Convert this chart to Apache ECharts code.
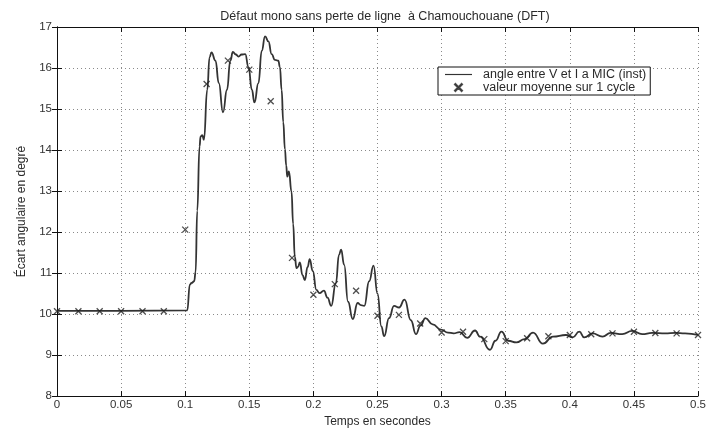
<!DOCTYPE html>
<html>
<head>
<meta charset="utf-8">
<script src="https://cdn.jsdelivr.net/npm/echarts@6/dist/echarts.min.js"></script>
<style>
  html, body { margin: 0; padding: 0; background: #fff; }
  #chart { width: 709px; height: 433px; }
</style>
</head>
<body>
<div id="chart"></div>
<script>
// Instantaneous angle between V and I at MIC (time in s, angle in degrees)
const timeSec = [
  0, 0.05, 0.1016, 0.1036, 0.1050, 0.1070, 0.1081, 0.1094, 0.1112, 0.1120,
  0.1133, 0.1146, 0.1172, 0.1190, 0.1205, 0.1236, 0.1262, 0.1295, 0.1326, 0.1352,
  0.1372, 0.1395, 0.1416, 0.1440, 0.1468, 0.1494, 0.1520, 0.1540, 0.1571, 0.1597,
  0.1623, 0.1649, 0.1674, 0.1700, 0.1726, 0.1739, 0.1752, 0.1765, 0.1778, 0.1788,
  0.1796, 0.1809, 0.1829, 0.1842, 0.1855, 0.1868, 0.1880, 0.1894, 0.1915, 0.1933,
  0.1955, 0.1971, 0.1995, 0.2023, 0.2048, 0.2082, 0.2110, 0.2139, 0.2175, 0.2200,
  0.2216, 0.2240, 0.2270, 0.2307, 0.2345, 0.2370, 0.2397, 0.2435, 0.2469, 0.2500,
  0.2530, 0.2552, 0.2590, 0.2629, 0.2668, 0.2711, 0.2760, 0.2800, 0.2835, 0.2874,
  0.2930, 0.2995, 0.3050, 0.3094, 0.3140, 0.3200, 0.3261, 0.3300, 0.3377, 0.3420,
  0.3467, 0.3519, 0.3584, 0.3648, 0.3713, 0.3790, 0.3868, 0.3970, 0.4022, 0.4074,
  0.4113, 0.4177, 0.4255, 0.4319, 0.4409, 0.4487, 0.4564, 0.4642, 0.4745, 0.4822,
  0.4899, 0.5
];
const angleDeg = [
  10.08, 10.08, 10.09, 10.72, 10.76, 10.80, 11.02, 12.52, 14.09, 14.33,
  14.36, 14.25, 15.47, 16.26, 16.38, 16.18, 15.63, 14.92, 15.47, 16.18,
  16.39, 16.33, 16.28, 16.33, 16.34, 16.02, 15.47, 15.16, 15.63, 16.42,
  16.77, 16.65, 16.34, 16.20, 16.18, 16.02, 15.47, 14.68, 14.02, 13.62,
  13.35, 13.48, 12.99, 12.20, 11.40, 11.12, 11.15, 11.26, 10.95, 10.83,
  11.15, 11.34, 11.05, 10.59, 10.51, 10.57, 10.40, 10.20, 10.75, 11.45,
  11.57, 11.20, 10.30, 9.88, 10.27, 10.22, 10.20, 10.80, 11.18, 10.50,
  9.70, 9.46, 9.90, 10.20, 10.16, 10.35, 9.85, 9.51, 9.72, 9.90,
  9.75, 9.62, 9.55, 9.53, 9.56, 9.42, 9.60, 9.45, 9.13, 9.35,
  9.57, 9.35, 9.31, 9.39, 9.55, 9.28, 9.45, 9.49, 9.43, 9.57,
  9.43, 9.53, 9.45, 9.54, 9.51, 9.59, 9.51, 9.54, 9.53, 9.54,
  9.53, 9.49
];

// One-cycle average (60 Hz) sampled once per cycle
const cycleTime = [
  0, 0.0167, 0.0333, 0.05, 0.0667, 0.0833, 0.1, 0.1167, 0.1333, 0.15,
  0.1667, 0.1833, 0.2, 0.2167, 0.2333, 0.25, 0.2667, 0.2833, 0.3, 0.3167,
  0.3333, 0.35, 0.3667, 0.3833, 0.4, 0.4167, 0.4333, 0.45, 0.4667, 0.4833, 0.5
];
const cycleMean = [
  10.07, 10.07, 10.07, 10.07, 10.07, 10.07, 12.06, 15.61, 16.18, 15.96,
  15.19, 11.37, 10.47, 10.73, 10.57, 9.96, 9.98, 9.77, 9.55, 9.57,
  9.39, 9.34, 9.41, 9.46, 9.49, 9.51, 9.53, 9.57, 9.54, 9.53, 9.49
];

const xTicks = { min: 0, max: 0.5, interval: 0.05 };
const yTicks = { min: 8, max: 17, interval: 1 };

const titleText = 'Défaut mono sans perte de ligne  à Chamouchouane (DFT)';
const xName = 'Temps en secondes';
const yName = 'Écart angulaire en degré';
const nameInst = 'angle entre V et I a MIC (inst)';
const nameMean = 'valeur moyenne sur 1 cycle';

const FONT = 'Liberation Sans, Arial, sans-serif';
const INK = '#2a2a2a';
const CROSS = 'path://M0,0L10,10M10,0L0,10';
// thin filled cross used as the legend glyph of the averaged series
const CROSS_FILLED = 'path://M0,0.55L0.55,0L5,4.45L9.45,0L10,0.55L5.55,5L10,9.45L9.45,10L5,5.55L0.55,10L0,9.45L4.45,5Z';

const chart = echarts.init(document.getElementById('chart'), null, { renderer: 'canvas' });

const baseAxisLine = { show: true, lineStyle: { color: '#111', width: 1 } };
const baseTick = { show: true, inside: true, length: 5, lineStyle: { color: '#111' } };
const gridLine = { show: true, lineStyle: { color: '#8a8a8a', type: [1, 3], width: 1 } };
const labelStyle = { color: '#333', fontFamily: FONT, fontSize: 11.5 };

chart.setOption({
  backgroundColor: '#fff',
  animation: false,
  title: {
    text: titleText,
    left: 380,
    textAlign: 'center',
    top: 5,
    textStyle: { fontFamily: FONT, fontSize: 12.5, fontWeight: 'normal', color: INK }
  },
  grid: { left: 57, right: 6, top: 27, bottom: 23, show: false },
  legend: {
    left: 438,
    top: 67,
    orient: 'vertical',
    padding: [1, 4, 1, 7],
    itemGap: 0,
    itemWidth: 27,
    itemHeight: 7,
    backgroundColor: '#fff',
    borderColor: '#111',
    borderWidth: 1,
    borderRadius: 0,
    textStyle: { fontFamily: FONT, fontSize: 12.5, lineHeight: 12, color: INK, padding: [0, 0, 0, 6] },
    data: [
      { name: nameInst, icon: 'path://M0,0H30V1.3H0Z', itemStyle: { color: '#333' } },
      { name: nameMean, icon: CROSS_FILLED, itemStyle: { color: '#444' } }
    ]
  },
  xAxis: [
    {
      type: 'value', position: 'bottom',
      min: xTicks.min, max: xTicks.max, interval: xTicks.interval,
      name: xName, nameLocation: 'middle', nameGap: 15,
      nameTextStyle: { fontFamily: FONT, fontSize: 12, color: INK },
      axisLine: baseAxisLine, axisTick: baseTick, splitLine: gridLine,
      axisLabel: Object.assign({ margin: 3, showMaxLabel: true }, labelStyle)
    },
    {
      type: 'value', position: 'top',
      min: xTicks.min, max: xTicks.max, interval: xTicks.interval,
      axisLine: baseAxisLine, axisTick: baseTick,
      axisLabel: { show: false }, splitLine: { show: false }
    }
  ],
  yAxis: [
    {
      type: 'value', position: 'left',
      min: yTicks.min, max: yTicks.max, interval: yTicks.interval,
      name: yName, nameLocation: 'middle', nameGap: 29,
      nameTextStyle: { fontFamily: FONT, fontSize: 12, color: INK },
      axisLine: baseAxisLine, axisTick: baseTick, splitLine: gridLine,
      axisLabel: Object.assign({ margin: 5 }, labelStyle)
    },
    {
      type: 'value', position: 'right',
      min: yTicks.min, max: yTicks.max, interval: yTicks.interval,
      axisLine: baseAxisLine, axisTick: baseTick,
      axisLabel: { show: false }, splitLine: { show: false }
    }
  ],
  series: [
    {
      name: nameInst,
      type: 'line',
      data: timeSec.map((t, i) => [t, angleDeg[i]]),
      showSymbol: false,
      smooth: 0.5,
      smoothMonotone: 'x',
      lineStyle: { color: '#333', width: 1.8 },
      itemStyle: { color: '#333' },
      z: 3
    },
    {
      name: nameMean,
      type: 'scatter',
      data: cycleTime.map((t, i) => [t, cycleMean[i]]),
      symbol: CROSS,
      symbolSize: 6,
      itemStyle: { color: 'none', borderColor: '#222', borderWidth: 1.3 },
      z: 4
    }
  ]
});
</script>
</body>
</html>
